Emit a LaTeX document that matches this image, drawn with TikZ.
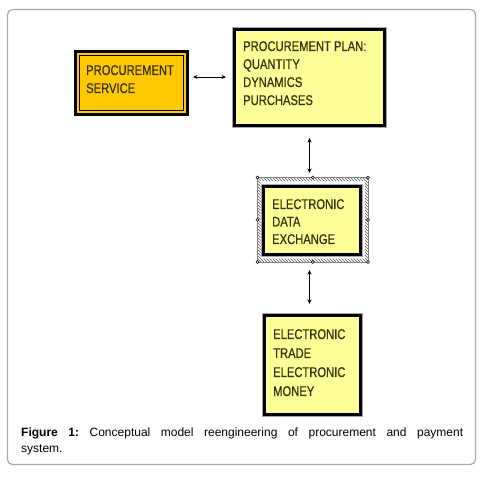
\documentclass[tikz,border=0pt]{standalone}
\usepackage{fontspec}
\setmainfont{Liberation Sans}
\newfontfamily\boxfont{Liberation Sans}[FakeStretch=0.8,FakeBold=0.6]
\usetikzlibrary{arrows.meta,patterns,calc}
\definecolor{svcfill}{HTML}{FFC800}
\definecolor{paleyellow}{HTML}{FFFF99}
\definecolor{boxtext}{HTML}{33330A}
\definecolor{framegray}{HTML}{A8A8A8}
\begin{document}
\begin{tikzpicture}[x=1pt,y=-1pt,
  boxtxt/.style={anchor=north west,inner sep=0pt,align=left,text=boxtext},
  thickbox/.style={draw=black,line width=3pt,fill=paleyellow,anchor=north west,inner sep=0pt,outer sep=0pt},
  grayedge/.style={draw=framegray,line width=1pt},
  biarrow/.style={line width=0.8pt,{Stealth[length=4.5pt,width=4pt]}-{Stealth[length=4.5pt,width=4pt]}},
  handle/.style={circle,draw=black,fill=white,line width=0.4pt,inner sep=0pt,minimum size=3pt}]
\useasboundingbox (0,0) rectangle (486,481);
% outer frame
\draw[framegray,line width=1.2pt,rounded corners=5pt] (7.5,9.5) rectangle (475.5,464.5);

% procurement service
\node[thickbox,fill=svcfill,minimum width=112pt,minimum height=63pt] (svc) at (75.5,51.5) {};
\draw[line width=1pt] ($(svc.north west)+(4,4)$) rectangle ($(svc.south east)+(-4,-4)$);
\node[boxtxt,font=\boxfont\fontsize{14}{18}\selectfont] (svct) at (86,65) {PROCUREMENT\\SERVICE};

% procurement plan
\node[thickbox,minimum width=150pt,minimum height=96pt] (plan) at (234.5,29.5) {};
\draw[grayedge] ($(plan.north west)+(-2,-2)$) rectangle ($(plan.south east)+(2,2)$);
\node[boxtxt,font=\boxfont\fontsize{14}{18}\selectfont] (plant) at (243,41) {PROCUREMENT PLAN:\\QUANTITY\\DYNAMICS\\PURCHASES};

% electronic data exchange (selected object)
\path[pattern=north west lines,pattern color=black!65,even odd rule]
  (257.5,177.5) rectangle (368,262) (260.5,181) rectangle (365,258.5);
\draw[gray,line width=0.4pt] (257.5,177.5) rectangle (368,262);
\node[thickbox,minimum width=97pt,minimum height=68pt] (ede) at (263.5,186.5) {};
\draw[grayedge] ($(ede.north west)+(-2,-2)$) rectangle ($(ede.south east)+(2,2)$);
\node[boxtxt,font=\boxfont\fontsize{14}{17.5}\selectfont] (edet) at (272,199) {ELECTRONIC\\DATA\\EXCHANGE};
\foreach \p/\n in {{(257.5,177.5)}/h1,{(312.75,177.5)}/h2,{(368,177.5)}/h3,{(257.5,219.75)}/h4,{(368,219.75)}/h5,{(257.5,262)}/h6,{(312.75,262)}/h7,{(368,262)}/h8}
  \node[handle] (\n) at \p {};

% electronic trade
\node[thickbox,minimum width=96pt,minimum height=99pt] (et) at (264.5,315.5) {};
\draw[grayedge] ($(et.north west)+(-2,-2)$) rectangle ($(et.south east)+(2,2)$);
\node[boxtxt,font=\boxfont\fontsize{14}{19}\selectfont] (ett) at (273,329) {ELECTRONIC\\TRADE\\ELECTRONIC\\MONEY};

% connectors
\draw[biarrow] ($(svc.east)+(5.5,-6)$) -- ($(plan.west |- svc.east)+(-8.5,-6)$);
\draw[biarrow] ($(plan.south)+(0,12.5)$) -- ($(plan.south |- ede.north)+(0,-13.5)$);
\draw[biarrow] ($(plan.south |- ede.south)+(0,15.5)$) -- ($(plan.south |- et.north)+(0,-11.5)$);

% caption
\node[anchor=north west,inner sep=0pt,text width=442pt,align=justify,font=\fontsize{12}{16}\selectfont\frenchspacing] (cap) at (21,428)
  {\textbf{Figure 1:} Conceptual model reengineering of procurement and payment\linebreak system.};
\end{tikzpicture}
\end{document}
